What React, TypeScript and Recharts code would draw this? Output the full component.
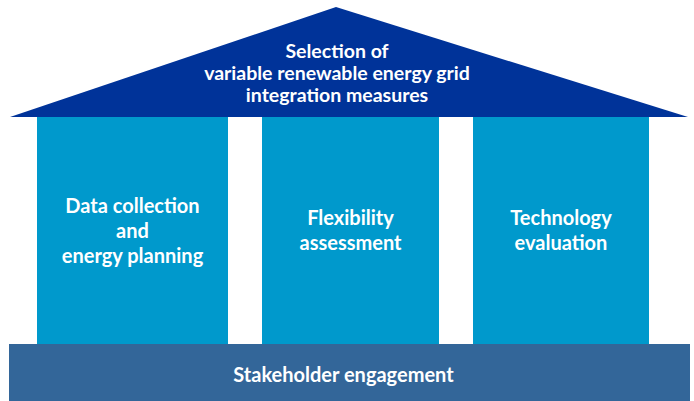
import React from 'react';
import { ComposedChart, Area, XAxis, YAxis, ReferenceArea, ReferenceDot } from 'recharts';

// roof outline (x, y in picture units, y grows downward)
const roofX = [10, 336, 688];
const roofY = [117, 7, 117];
const roofLines = ['Selection of', 'variable renewable energy grid', 'integration measures'];

// pillars: left / right edges, top / bottom
const pillarLeft = [37, 262, 473];
const pillarRight = [228, 439, 649];
const pillarTop = 117;
const pillarBottom = 344;
const pillarLines = [
  ['Data collection', 'and', 'energy planning'],
  ['Flexibility', 'assessment'],
  ['Technology', 'evaluation'],
];

// foundation
const baseLeft = 9;
const baseRight = 690;
const baseTop = 344;
const baseBottom = 401;
const baseLines = ['Stakeholder engagement'];

const roofData = roofX.map((x, i) => ({ x, y: roofY[i] }));

const W = 694;
const H = 401;

const ROOF = '#003399';
const PILLAR = '#0099CC';
const BASE = '#336699';
const FONT = 'Lato, "Open Sans", sans-serif';

const MultiLine = ({ viewBox, lines, lineHeight, shift = 7, size = 20 }: any) => {
  if (!viewBox) return null;
  const cx = viewBox.x + viewBox.width / 2;
  const cy = viewBox.y + viewBox.height / 2;
  return (
    <text
      textAnchor="middle"
      fill="#ffffff"
      fontFamily={FONT}
      fontWeight={700}
      fontSize={size}
    >
      {lines.map((l: string, i: number) => (
        <tspan key={i} x={cx} y={cy + (i - (lines.length - 1) / 2) * lineHeight + shift}>
          {l}
        </tspan>
      ))}
    </text>
  );
};

export default function App() {
  return (
    <div style={{ position: 'absolute', left: 0, top: 0, width: W, height: H, background: '#fff' }}>
      <ComposedChart width={W} height={H} data={roofData} margin={{ top: 0, right: 0, bottom: 0, left: 0 }}>
        <XAxis type="number" dataKey="x" domain={[0, W]} hide />
        <YAxis type="number" domain={[0, H]} reversed hide />
        {pillarLeft.map((x1, i) => (
          <ReferenceArea
            key={i}
            x1={x1}
            x2={pillarRight[i]}
            y1={pillarTop}
            y2={pillarBottom}
            fill={PILLAR}
            fillOpacity={1}
            stroke="none"
            ifOverflow="visible"
            label={(p: any) => <MultiLine viewBox={p.viewBox} lines={pillarLines[i]} lineHeight={25} />}
          />
        ))}
        <ReferenceArea
          x1={baseLeft}
          x2={baseRight}
          y1={baseTop}
          y2={baseBottom}
          fill={BASE}
          fillOpacity={1}
          stroke="none"
          ifOverflow="visible"
          label={(p: any) => (
            <MultiLine viewBox={{ ...p.viewBox, x: p.viewBox.x - 6 }} lines={baseLines} lineHeight={22} shift={9} />
          )}
        />
        <Area
          type="linear"
          dataKey="y"
          baseValue={117}
          fill={ROOF}
          fillOpacity={1}
          stroke="none"
          dot={false}
          activeDot={false}
          isAnimationActive={false}
        />
        <ReferenceDot
          x={337}
          y={73}
          r={0}
          fill="none"
          stroke="none"
          ifOverflow="visible"
          label={(p: any) => <MultiLine viewBox={p.viewBox} lines={roofLines} lineHeight={22} size={19.5} />}
        />
      </ComposedChart>
    </div>
  );
}
